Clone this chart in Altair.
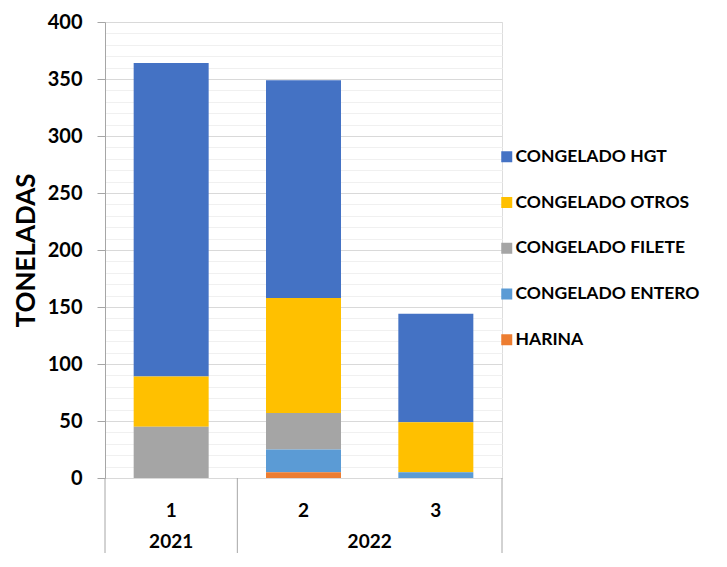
import altair as alt
import pandas as pd

# ---- data ----
meses = [1, 2, 3]
anios = ["2021", "2022", "2022"]
productos = ["CONGELADO HGT", "CONGELADO OTROS", "CONGELADO FILETE", "CONGELADO ENTERO", "HARINA"]
colores = ["#4472C4", "#FFC000", "#A5A5A5", "#5B9BD5", "#ED7D31"]
hgt = [275, 191, 95]
otros = [44, 101, 44]
filete = [45, 32, 0]
entero = [0, 20, 5]
harina = [0, 5, 0]

series = [hgt, otros, filete, entero, harina]
rows = []
for p_idx, (prod, vals) in enumerate(zip(productos, series)):
    for m, a, v in zip(meses, anios, vals):
        rows.append({"mes": m, "anio": a, "producto": prod, "toneladas": v,
                     "orden": len(productos) - 1 - p_idx})
df = pd.DataFrame(rows)

df_meses = pd.DataFrame({"mes": meses, "anio": anios})
grp = df_meses.groupby("anio")["mes"]
seps = sorted(list(grp.min() - 0.5) + [df_meses["mes"].max() + 0.5])
df_sep = pd.DataFrame({"pos": seps})

W, H = 397, 456
FONT = "Lato"
GRAY = "#a6a6a6"

xscale = alt.Scale(domain=[0.5, 3.5], nice=False, zero=False, padding=0)

bars = alt.Chart(df).mark_bar(size=75).encode(
    x=alt.X("mes:Q", scale=xscale,
            axis=alt.Axis(title=None, labels=False, ticks=False, grid=False,
                          domainColor=GRAY, domainWidth=1)),
    y=alt.Y("toneladas:Q", stack="zero",
            scale=alt.Scale(domain=[0, 400], nice=False),
            axis=alt.Axis(
                values=list(range(0, 401, 10)),
                labelExpr="datum.value % 50 === 0 ? datum.label : ''",
                gridColor={"condition": {"test": "datum.value % 50 === 0", "value": "#d9d9d9"},
                           "value": "#f0f0f0"},
                tickOpacity={"condition": {"test": "datum.value % 50 === 0", "value": 1},
                             "value": 0},
                tickSize=8, tickColor=GRAY, domainColor=GRAY,
                labelFont=FONT, labelFontWeight="bold", labelFontSize=20,
                labelColor="black", labelPadding=15,
                title="TONELADAS", titleFont=FONT, titleFontWeight="bold",
                titleFontSize=26, titleColor="black", titlePadding=8)),
    color=alt.Color("producto:N",
                    scale=alt.Scale(domain=productos, range=colores),
                    legend=alt.Legend(
                        title=None, orient="none", legendX=393, legendY=126,
                        symbolType="square", symbolSize=121, symbolStrokeWidth=0,
                        labelFont=FONT, labelFontWeight="bold", labelFontSize=17.5,
                        labelColor="black", labelOffset=0, rowPadding=26.75,
                        labelLimit=400, padding=0)),
    order=alt.Order("orden:Q", sort="ascending"),
)

mes_text = alt.Chart(df_meses).mark_text(
    font=FONT, fontWeight="bold", fontSize=19, color="black", baseline="middle"
).encode(
    x=alt.X("mes:Q", scale=xscale, axis=None),
    y=alt.value(H + 33),
    text="mes:N",
)

anio_text = alt.Chart(df_meses).mark_text(
    font=FONT, fontWeight="bold", fontSize=19, color="black", baseline="alphabetic"
).encode(
    x=alt.X("mean(mes):Q", scale=xscale, axis=None),
    y=alt.value(H + 70),
    text="anio:N",
)

sep_rules = alt.Chart(df_sep).mark_rule(color=GRAY, strokeWidth=1).encode(
    x=alt.X("pos:Q", scale=xscale, axis=None),
    y=alt.value(H),
    y2=alt.value(H + 80),
)

chart = alt.layer(bars, sep_rules, mes_text, anio_text).properties(
    width=W, height=H,
    padding={"left": 97, "top": 14, "right": 210, "bottom": 75},
    autosize=alt.AutoSizeParams(type="none"),
).configure_view(stroke=None).configure(background="white")

chart.save("out.html", embed_options={"renderer": "svg", "actions": False})
